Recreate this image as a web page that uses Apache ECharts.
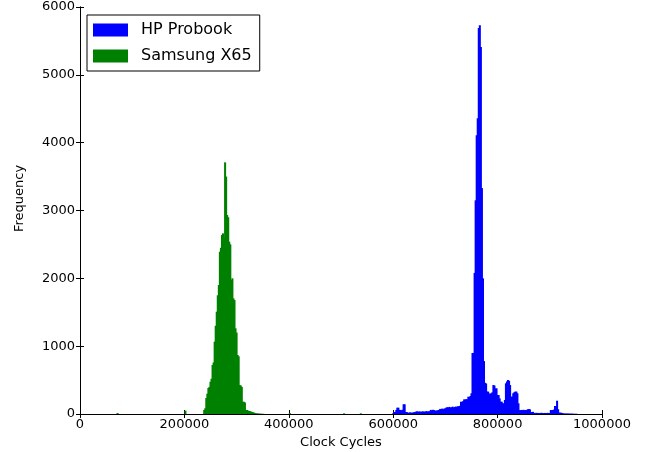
<!DOCTYPE html>
<html>
<head>
<meta charset="utf-8">
<script src="https://cdn.jsdelivr.net/npm/echarts@6/dist/echarts.min.js"></script>
<style>
  html, body { margin: 0; padding: 0; background: #fff; }
  #chart { width: 651px; height: 452px; }
</style>
</head>
<body>
<div id="chart"></div>
<script>
// histogram bins, 2000 clock cycles wide
const binWidth = 2000;

const hpStart = 596000;
const hpCounts = [
  0, 10, 30, 30, 60, 93, 93, 60, 60, 55,
  62, 143, 143, 30, 30, 20, 15, 25, 20, 18,
  22, 25, 30, 35, 40, 32, 38, 35, 30, 40,
  36, 33, 38, 42, 35, 40, 38, 60, 55, 62,
  58, 50, 48, 52, 55, 60, 75, 70, 80, 72,
  78, 85, 95, 100, 98, 105, 92, 100, 108, 96,
  102, 110, 100, 115, 110, 120, 182, 175, 190, 216,
  210, 220, 216, 255, 250, 265, 305, 900, 900, 2080,
  3150, 4110, 4360, 5690, 5730, 5410, 3330, 2000, 780, 460,
  450, 330, 330, 300, 300, 305, 320, 427, 420, 378,
  378, 280, 280, 230, 181, 181, 157, 157, 206, 452,
  480, 501, 490, 427, 255, 255, 305, 320, 330, 330,
  305, 157, 59, 55, 60, 58, 62, 55, 60, 58,
  70, 72, 68, 30, 28, 32, 15, 12, 18, 14,
  16, 12, 15, 18, 14, 12, 16, 15, 13, 17,
  15, 14, 59, 55, 60, 65, 118, 118, 196, 70,
  20, 20, 18, 15, 8, 6, 8, 5, 7, 6,
  5, 4, 6, 3, 4, 2, 3, 2
];

const samsungStart = 236000;
const samsungCounts = [
  60, 84, 236, 300, 383, 400, 476, 520, 722, 760,
  1066, 1300, 1508, 1750, 1901, 2392, 2450, 2640, 2663, 2600,
  3710, 3500, 2933, 2900, 2540, 2500, 1975, 2000, 1705, 1680,
  1263, 1200, 870, 850, 427, 420, 400, 181, 180, 170,
  59, 59, 50, 45, 40, 35, 30, 25, 18, 14,
  10, 8, 6, 5, 4, 3, 2, 2
];
// a few isolated bins far from the main hump: [bin start, count]
const samsungStray = [[70000, 15], [200000, 50], [400000, 15], [504000, 10], [536000, 10]];

const xTicks = { min: 0, max: 1000000, interval: 200000 };
const yTicks = { min: 0, max: 6000, interval: 1000 };

function toBins(start, counts) {
  return counts.map((c, i) => [start + i * binWidth, start + (i + 1) * binWidth, c]);
}

const hpData = toBins(hpStart, hpCounts);
const samsungData = toBins(samsungStart, samsungCounts)
  .concat(samsungStray.map(s => [s[0], s[0] + binWidth, s[1]]));

function histRender(color) {
  return function (params, api) {
    const p0 = api.coord([api.value(0), api.value(2)]);
    const p1 = api.coord([api.value(1), 0]);
    // bins are about 1px wide; overlap neighbours so no white seams show
    return {
      type: 'rect',
      shape: { x: p0[0], y: p0[1], width: p1[0] - p0[0] + 1, height: p1[1] - p0[1] },
      style: { fill: color }
    };
  };
}

const font = 'DejaVu Sans';
const frameLine = { show: true, lineStyle: { color: '#000', width: 1 } };
const innerTick = { show: true, inside: true, length: 4, lineStyle: { color: '#000' } };

const chart = echarts.init(document.getElementById('chart'));
chart.setOption({
  animation: false,
  grid: { left: 80, right: 49, top: 7, bottom: 38, outerBoundsMode: 'none' },
  legend: {
    orient: 'vertical',
    left: 87,
    top: 15,
    padding: [7, 8, 7, 6],
    itemWidth: 35,
    itemHeight: 13,
    itemGap: 10,
    borderColor: '#000',
    borderWidth: 1,
    backgroundColor: '#fff',
    icon: 'rect',
    textStyle: { fontFamily: font, fontSize: 16, color: '#000', padding: [0, 0, 0, 8] },
    data: ['HP Probook', 'Samsung X65']
  },
  xAxis: [
    {
      type: 'value', min: xTicks.min, max: xTicks.max, interval: xTicks.interval,
      name: 'Clock Cycles', nameLocation: 'middle', nameGap: 19,
      nameTextStyle: { fontFamily: font, fontSize: 13, color: '#000' },
      axisLine: frameLine, axisTick: innerTick, splitLine: { show: false },
      axisLabel: { fontFamily: font, fontSize: 13, color: '#000', margin: 4, formatter: v => String(v) }
    },
    {
      type: 'value', position: 'top', min: xTicks.min, max: xTicks.max, interval: xTicks.interval,
      axisLine: frameLine, axisTick: innerTick, splitLine: { show: false }, axisLabel: { show: false }
    }
  ],
  yAxis: [
    {
      type: 'value', min: yTicks.min, max: yTicks.max, interval: yTicks.interval,
      name: 'Frequency', nameLocation: 'middle', nameGap: 54,
      nameTextStyle: { fontFamily: font, fontSize: 13, color: '#000', padding: [0, 0, 0, 24] },
      axisLine: frameLine, axisTick: innerTick, splitLine: { show: false },
      axisLabel: { fontFamily: font, fontSize: 13, color: '#000', margin: 5, formatter: v => String(v) }
    },
    {
      type: 'value', position: 'right', min: yTicks.min, max: yTicks.max, interval: yTicks.interval,
      axisLine: frameLine, axisTick: innerTick, splitLine: { show: false }, axisLabel: { show: false }
    }
  ],
  series: [
    {
      name: 'HP Probook', type: 'custom', xAxisIndex: 0, yAxisIndex: 0,
      itemStyle: { color: '#0000ff' },
      renderItem: histRender('#0000ff'),
      encode: { x: [0, 1], y: 2 },
      data: hpData
    },
    {
      name: 'Samsung X65', type: 'custom', xAxisIndex: 0, yAxisIndex: 0,
      itemStyle: { color: '#008000' },
      renderItem: histRender('#008000'),
      encode: { x: [0, 1], y: 2 },
      data: samsungData
    }
  ]
});
</script>
</body>
</html>
